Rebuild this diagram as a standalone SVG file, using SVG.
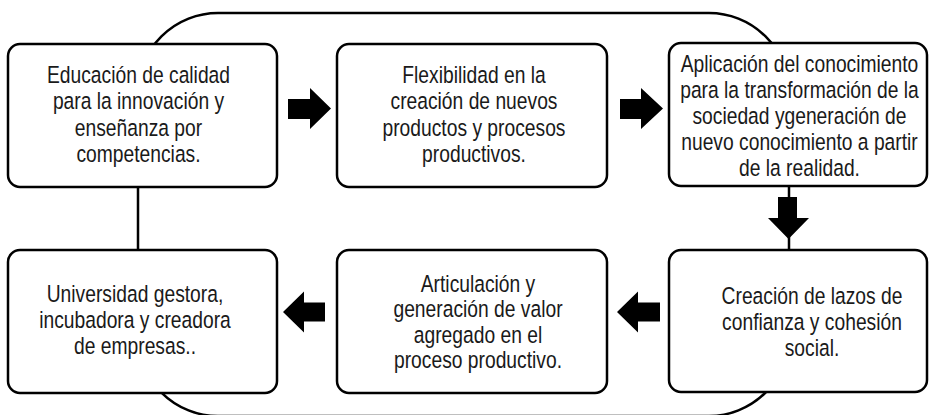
<svg xmlns="http://www.w3.org/2000/svg" width="929" height="415" viewBox="0 0 929 415">
  <style>
    .box { fill: #ffffff; stroke: #000000; stroke-width: 2.5; }
    .loop { fill: none; stroke: #000000; stroke-width: 2.5; }
    .arrow { fill: #000000; stroke: none; }
    .lbl { font-family: "Liberation Sans", Arial, sans-serif; font-size: 23.5px; fill: #1a1a1a; text-anchor: middle; }
  </style>
  <rect width="929" height="415" fill="#ffffff"/>
  <g id="connectors">
    <rect class="loop" x="138" y="13" width="651" height="403" rx="80" ry="80"/>
    <polygon class="arrow" points="288,99 310,99 310,88 331,108.5 310,129 310,119 288,119"/>
    <polygon class="arrow" points="620,99 641,99 641,88 663,108.5 641,129 641,119 620,119"/>
    <polygon class="arrow" points="778,197 797,197 797,218 809,218 788.5,239 768,218 778,218"/>
    <polygon class="arrow" points="283,312 304,291.5 304,302.5 325,302.5 325,321.5 304,321.5 304,332.5"/>
    <polygon class="arrow" points="617,312 638,291.5 638,302.5 660,302.5 660,321.5 638,321.5 638,332.5"/>
  </g>
  <g id="node1">
    <rect class="box" x="8" y="44" width="269" height="143" rx="12" ry="12"/>
    <g transform="translate(138.5,0) scale(0.82,1)">
      <text class="lbl" x="0" y="83">Educación de calidad</text>
      <text class="lbl" x="0" y="109.5">para la innovación y</text>
      <text class="lbl" x="0" y="136">enseñanza por</text>
      <text class="lbl" x="0" y="162.5">competencias.</text>
    </g>
  </g>
  <g id="node2">
    <rect class="box" x="337" y="44" width="270" height="143" rx="12" ry="12"/>
    <g transform="translate(474,0) scale(0.82,1)">
      <text class="lbl" x="0" y="83">Flexibilidad en la</text>
      <text class="lbl" x="0" y="109.5">creación de nuevos</text>
      <text class="lbl" x="0" y="136">productos y procesos</text>
      <text class="lbl" x="0" y="162.5">productivos.</text>
    </g>
  </g>
  <g id="node3">
    <rect class="box" x="669" y="43" width="258" height="143" rx="12" ry="12"/>
    <g transform="translate(799.5,0) scale(0.82,1)">
      <text class="lbl" x="0" y="72">Aplicación del conocimiento</text>
      <text class="lbl" x="0" y="98">para la transformación de la</text>
      <text class="lbl" x="0" y="124.5">sociedad ygeneración de</text>
      <text class="lbl" x="0" y="150.5">nuevo conocimiento a partir</text>
      <text class="lbl" x="0" y="176.5">de la realidad.</text>
    </g>
  </g>
  <g id="node4">
    <rect class="box" x="669" y="250" width="258" height="142" rx="12" ry="12"/>
    <g transform="translate(812,0) scale(0.82,1)">
      <text class="lbl" x="0" y="304">Creación de lazos de</text>
      <text class="lbl" x="0" y="330">confianza y cohesión</text>
      <text class="lbl" x="0" y="356">social.</text>
    </g>
  </g>
  <g id="node5">
    <rect class="box" x="337" y="250" width="270" height="143" rx="12" ry="12"/>
    <g transform="translate(478,0) scale(0.82,1)">
      <text class="lbl" x="0" y="292">Articulación y</text>
      <text class="lbl" x="0" y="317.5">generación de valor</text>
      <text class="lbl" x="0" y="343">agregado en el</text>
      <text class="lbl" x="0" y="368.5">proceso productivo.</text>
    </g>
  </g>
  <g id="node6">
    <rect class="box" x="8" y="250" width="269" height="143" rx="12" ry="12"/>
    <g transform="translate(135,0) scale(0.82,1)">
      <text class="lbl" x="0" y="302">Universidad gestora,</text>
      <text class="lbl" x="0" y="328">incubadora y creadora</text>
      <text class="lbl" x="0" y="354">de empresas..</text>
    </g>
  </g>
</svg>
